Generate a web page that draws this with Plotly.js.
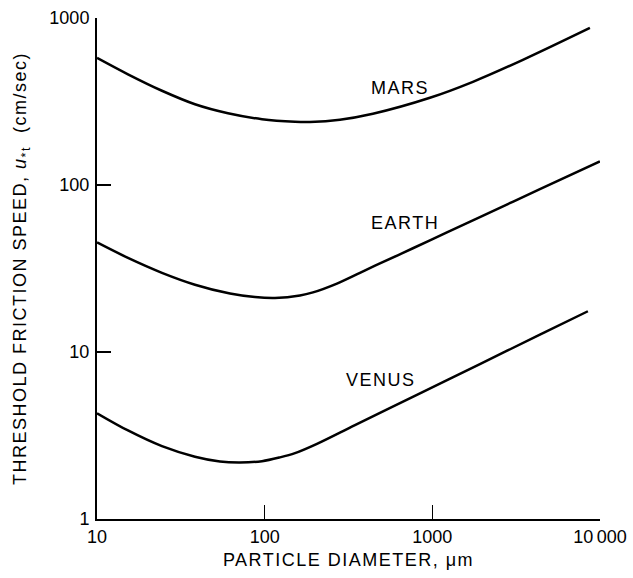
<!DOCTYPE html>
<html>
<head>
<meta charset="utf-8">
<script src="https://cdn.plot.ly/plotly-3.0.1.min.js"></script>
<style>
  html, body { margin: 0; padding: 0; background: #fff; }
  #chart { width: 633px; height: 578px; }
  .xtitle, .ytitle, .annotation-text { letter-spacing: 1.5px; }
</style>
</head>
<body>
<div id="chart"></div>
<script>
// Threshold friction speed (cm/s) against particle diameter (µm) for each planet
const marsDiameter  = [10, 15.3, 24.4, 38.4, 60.4, 96.4, 151.6, 186.2, 281, 442, 967.6, 1746, 3469, 8706];
const marsSpeed     = [577, 460, 366.7, 304.5, 269, 247.7, 239.3, 238.6, 246, 267.2, 333, 415, 561.9, 872.6];

const earthDiameter = [10, 15.3, 24.4, 38.4, 62.1, 87.5, 115.2, 162.4, 194.1, 269.8, 370.1, 487, 766, 1222, 1922, 4381, 9986];
const earthSpeed    = [45.3, 36.6, 29.8, 25.3, 22.4, 21.35, 21.09, 21.8, 22.75, 25.7, 29.8, 33.9, 41.8, 52.1, 64.3, 94.4, 138.6];

const venusDiameter = [10, 15.3, 24.4, 38.4, 54.1, 71.2, 96.4, 123.4, 151.6, 205.1, 345.5, 809, 1922, 4381, 8468];
const venusSpeed    = [4.30, 3.39, 2.73, 2.36, 2.21, 2.18, 2.22, 2.34, 2.48, 2.82, 3.65, 5.54, 8.47, 12.69, 17.54];

const xTickVals = [10, 100, 1000, 10000];
const xTickText = ['10', '100', '1000', '10\u2009000'];
const yTickVals = [1, 10, 100, 1000];
const yTickText = ['1', '10', '100', '1000'];

const FONT = 'Liberation Sans, Arial, Helvetica, sans-serif';

function curve(x, y, name) {
  return {
    x: x, y: y, name: name, type: 'scatter', mode: 'lines',
    line: { color: '#000', width: 2.5, shape: 'spline', smoothing: 0.9 },
    hoverinfo: 'x+y+name'
  };
}

const data = [
  curve(marsDiameter, marsSpeed, 'MARS'),
  curve(earthDiameter, earthSpeed, 'EARTH'),
  curve(venusDiameter, venusSpeed, 'VENUS')
];

const axisCommon = {
  type: 'log',
  showline: true, linecolor: '#000', linewidth: 2,
  mirror: false, showgrid: false, zeroline: false,
  ticks: 'inside', ticklen: 14, tickwidth: 1.5, tickcolor: '#000',
  tickfont: { family: FONT, size: 18, color: '#000' },
  automargin: false
};

const layout = {
  width: 633, height: 578,
  margin: { l: 97, r: 33, t: 18, b: 59 },
  paper_bgcolor: '#fff', plot_bgcolor: '#fff',
  showlegend: false,
  font: { family: FONT, color: '#000' },
  xaxis: Object.assign({}, axisCommon, {
    range: [1, 4],
    tickvals: xTickVals, ticktext: xTickText,
    ticklabelstandoff: 0,
    title: { text: 'PARTICLE DIAMETER, \u03bcm', font: { family: FONT, size: 18, color: '#000' }, standoff: 8 }
  }),
  yaxis: Object.assign({}, axisCommon, {
    range: [0, 3],
    tickvals: yTickVals, ticktext: yTickText,
    ticklabelstandoff: 2,
    title: { text: 'THRESHOLD FRICTION SPEED, <i>u</i><sub>*t</sub>  (cm/sec)', font: { family: FONT, size: 18, color: '#000' }, standoff: 18 }
  }),
  annotations: [
    { text: 'MARS',  x: 2.807, y: 2.582, xref: 'x', yref: 'y', showarrow: false, font: { family: FONT, size: 18, color: '#000' } },
    { text: 'EARTH', x: 2.837, y: 1.775, xref: 'x', yref: 'y', showarrow: false, font: { family: FONT, size: 18, color: '#000' } },
    { text: 'VENUS', x: 2.693, y: 0.831, xref: 'x', yref: 'y', showarrow: false, font: { family: FONT, size: 18, color: '#000' } }
  ]
};

Plotly.newPlot('chart', data, layout, { displayModeBar: false, staticPlot: true });
</script>
</body>
</html>
